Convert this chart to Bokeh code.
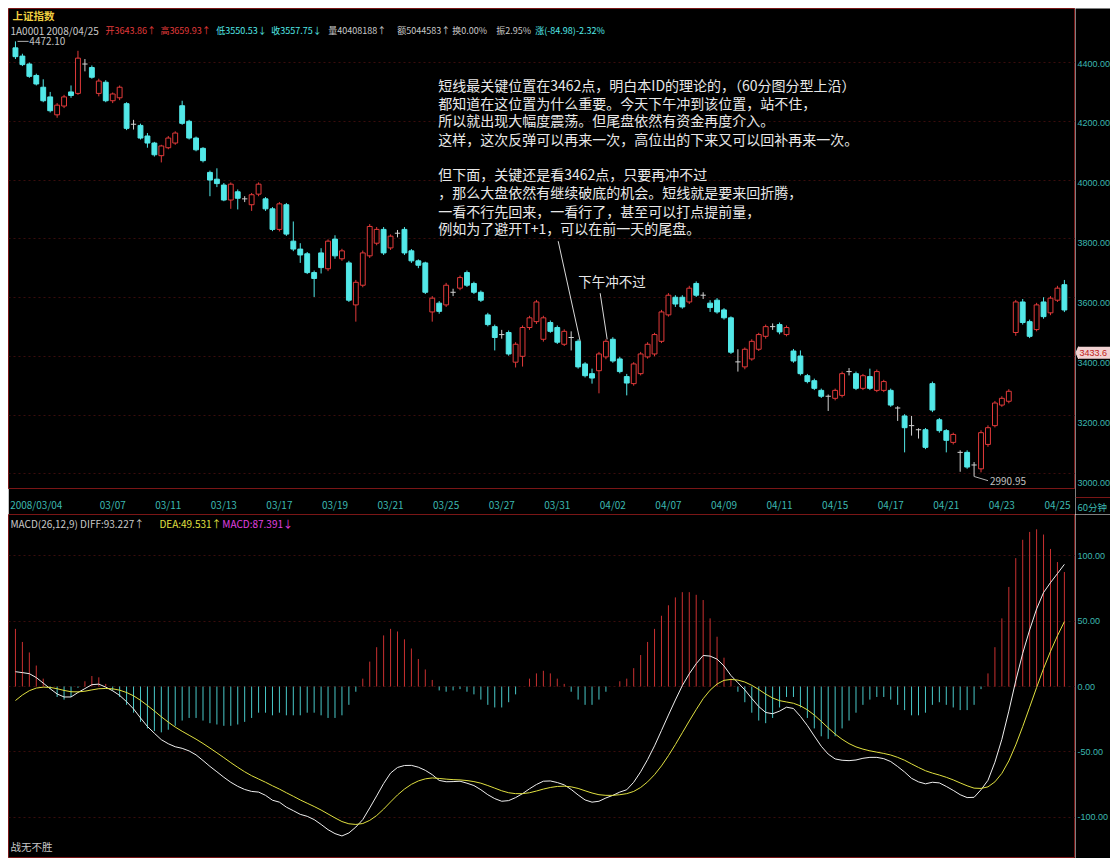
from bokeh.plotting import figure
from bokeh.models import Range1d, FixedTicker, Grid
from bokeh.layouts import column, row
from bokeh.embed import file_html
from bokeh.resources import INLINE
from bokeh.core.properties import value

# ---------------- data (60-minute bars, 2008/03/04 - 2008/04/25) ----------------
opens = [4450, 4422, 4395, 4356, 4316, 4283, 4222, 4252, 4300, 4295,
         4395, 4383, 4295, 4333, 4270, 4280, 4260, 4190, 4186, 4150,
         4126, 4083, 4110, 4126, 4253, 4200, 4143, 4108, 4026, 4003,
         3983, 3932, 3960, 3936, 3916, 3952, 3936, 3902, 3832, 3916,
         3792, 3765, 3749, 3685, 3752, 3698, 3799, 3732, 3718, 3575,
         3642, 3742, 3785, 3832, 3769, 3819, 3832, 3759, 3725, 3718,
         3551, 3581, 3575, 3618, 3632, 3685, 3648, 3618, 3541, 3501,
         3474, 3481, 3380, 3400, 3498, 3518, 3458, 3515, 3498, 3441,
         3464, 3451, 3374, 3341, 3351, 3398, 3458, 3391, 3331, 3307,
         3341, 3398, 3408, 3451, 3541, 3601, 3601, 3585, 3648, 3608,
         3581, 3591, 3558, 3531, 3381, 3364, 3391, 3424, 3468, 3501,
         3508, 3474, 3418, 3401, 3334, 3317, 3284, 3264, 3257, 3267,
         3348, 3341, 3291, 3331, 3284, 3284, 3284, 3224, 3197, 3164,
         3150, 3150, 3307, 3184, 3147, 3107, 3073, 3073, 3030, 3017,
         3100, 3164, 3234, 3247, 3481, 3585, 3518, 3491, 3585, 3548,
         3591, 3643.86]
highs = [4472.10, 4430, 4400, 4362, 4343, 4300, 4262, 4290, 4322, 4440,
         4412, 4390, 4345, 4340, 4298, 4322, 4265, 4205, 4192, 4160,
         4130, 4120, 4150, 4166, 4270, 4205, 4148, 4112, 4032, 4040,
         3990, 3992, 3968, 3945, 3956, 3992, 3942, 3908, 3925, 3922,
         3859, 3785, 3755, 3692, 3768, 3798, 3812, 3766, 3725, 3660,
         3760, 3850, 3840, 3840, 3815, 3830, 3840, 3765, 3730, 3722,
         3605, 3588, 3650, 3630, 3675, 3692, 3654, 3624, 3548, 3508,
         3490, 3488, 3448, 3505, 3538, 3592, 3538, 3522, 3505, 3492,
         3485, 3458, 3380, 3358, 3415, 3458, 3465, 3398, 3340, 3380,
         3415, 3448, 3480, 3558, 3615, 3608, 3608, 3640, 3655, 3618,
         3591, 3598, 3564, 3536, 3424, 3430, 3458, 3480, 3508, 3512,
         3515, 3505, 3425, 3420, 3340, 3324, 3290, 3270, 3290, 3348,
         3360, 3348, 3340, 3358, 3355, 3320, 3290, 3230, 3203, 3197,
         3155, 3156, 3314, 3190, 3152, 3140, 3080, 3080, 3040, 3148,
         3165, 3248, 3264, 3288, 3592, 3595, 3525, 3582, 3601, 3605,
         3640, 3659.93]
lows = [4412, 4388, 4348, 4322, 4265, 4230, 4212, 4245, 4280, 4290,
        4370, 4345, 4285, 4265, 4262, 4272, 4170, 4172, 4138, 4110,
        4080, 4060, 4105, 4120, 4188, 4138, 4098, 4060, 3945, 3976,
        3928, 3902, 3900, 3925, 3895, 3945, 3895, 3826, 3825, 3810,
        3758, 3718, 3680, 3602, 3682, 3690, 3732, 3725, 3585, 3518,
        3635, 3735, 3778, 3745, 3762, 3805, 3745, 3718, 3700, 3612,
        3518, 3545, 3568, 3605, 3625, 3636, 3612, 3585, 3502, 3420,
        3460, 3402, 3362, 3365, 3490, 3510, 3450, 3480, 3442, 3435,
        3420, 3358, 3328, 3307, 3274, 3390, 3378, 3342, 3267, 3300,
        3335, 3392, 3400, 3445, 3535, 3568, 3562, 3578, 3602, 3595,
        3551, 3545, 3525, 3408, 3348, 3356, 3385, 3418, 3460, 3490,
        3475, 3468, 3378, 3335, 3308, 3285, 3258, 3214, 3250, 3260,
        3335, 3285, 3285, 3285, 3278, 3278, 3228, 3180, 3073, 3130,
        3120, 3084, 3210, 3140, 3073, 3100, 3007, 3017, 2990.95, 3005,
        3092, 3158, 3228, 3240, 3470, 3508, 3462, 3485, 3528, 3540,
        3585, 3550.53]
closes = [4420, 4393, 4353, 4327, 4270, 4236, 4255, 4283, 4288, 4415,
          4395, 4350, 4337, 4270, 4293, 4316, 4176, 4190, 4143, 4126,
          4086, 4116, 4143, 4160, 4193, 4143, 4103, 4066, 4000, 3988,
          3932, 3986, 3938, 3936, 3950, 3986, 3902, 3832, 3919, 3816,
          3765, 3745, 3685, 3665, 3702, 3792, 3742, 3759, 3591, 3652,
          3752, 3842, 3832, 3752, 3809, 3819, 3752, 3725, 3710, 3618,
          3598, 3553, 3642, 3618, 3668, 3642, 3618, 3591, 3508, 3464,
          3474, 3408, 3441, 3498, 3531, 3585, 3531, 3485, 3448, 3485,
          3464, 3364, 3334, 3326, 3408, 3451, 3384, 3348, 3309, 3374,
          3408, 3441, 3474, 3551, 3608, 3578, 3568, 3632, 3608, 3608,
          3566, 3551, 3531, 3414, 3381, 3424, 3451, 3474, 3501, 3501,
          3483, 3498, 3384, 3341, 3314, 3291, 3264, 3264, 3284, 3341,
          3348, 3291, 3334, 3291, 3348, 3314, 3234, 3224, 3157, 3164,
          3150, 3090, 3217, 3147, 3114, 3134, 3073, 3023, 3030, 3140,
          3157, 3241, 3257, 3281, 3585, 3515, 3468, 3575, 3535, 3598,
          3632, 3557.75]

# MACD(26,12,9): DIFF (white), DEA (yellow), MACD histogram
diff = [11.3, 10.6, 9.8, 6.8, 2.6, -1.7, -5.7, -8.0, -8.0, -4.6,
        -1.6, 1.4, 1.8, -0.5, -3.3, -6.8, -11.6, -17.1, -24.0, -30.5,
        -35.7, -40.6, -43.7, -46.0, -47.2, -49.2, -52.2, -56.5, -61.0, -65.1,
        -69.3, -73.1, -76.2, -78.6, -80.1, -80.6, -83.1, -86.8, -88.3, -92.1,
        -94.8, -97.6, -99.1, -101.6, -105.3, -109.3, -112.3, -114.1, -111.8, -107.3,
        -101.6, -92.7, -83.5, -74.1, -66.1, -61.8, -60.3, -60.2, -61.6, -64.0,
        -67.3, -71.7, -72.7, -72.6, -72.3, -73.8, -75.6, -78.8, -82.6, -85.6,
        -87.6, -87.1, -84.8, -81.8, -78.1, -74.8, -72.3, -72.1, -73.3, -75.1,
        -78.6, -82.8, -86.6, -88.3, -87.6, -85.1, -83.1, -80.6, -78.8, -73.1,
        -65.1, -55.8, -45.3, -33.6, -21.8, -10.3, 0.7, 9.7, 17.4, 23.7,
        23.2, 20.9, 15.7, 8.4, 2.9, -2.6, -9.1, -15.3, -19.8, -20.8,
        -18.8, -15.8, -16.8, -22.8, -29.8, -37.8, -45.6, -51.6, -55.3, -56.3,
        -56.6, -56.1, -54.8, -54.1, -54.1, -55.1, -57.3, -61.1, -65.3, -70.1,
        -72.8, -74.3, -73.1, -73.6, -76.3, -79.3, -82.6, -84.8, -84.6, -78.8,
        -71.6, -57.8, -40.3, -18.8, 4.4, 25.4, 43.2, 59.2, 71.7, 79.3,
        86.2, 93.227]
dea = [-10.7, -6.5, -3.2, -1.2, -0.5, -0.7, -1.7, -3.0, -4.0, -4.1,
       -3.6, -2.6, -1.7, -1.5, -1.8, -2.8, -4.6, -7.1, -10.5, -14.5,
       -18.7, -23.1, -27.2, -31.0, -34.2, -37.2, -40.2, -43.5, -47.0, -50.6,
       -54.3, -58.1, -61.7, -65.1, -68.1, -70.6, -73.1, -75.8, -78.3, -81.1,
       -83.8, -86.6, -89.1, -91.6, -94.3, -97.3, -100.3, -103.1, -104.8, -105.3,
       -104.6, -102.2, -98.5, -93.6, -88.1, -82.8, -78.3, -74.7, -72.1, -70.5,
       -69.8, -70.2, -70.7, -71.1, -71.3, -71.8, -72.6, -73.8, -75.6, -77.6,
       -79.6, -81.1, -81.8, -81.8, -81.1, -79.8, -78.3, -77.1, -76.3, -76.1,
       -76.6, -77.8, -79.6, -81.3, -82.6, -83.1, -83.1, -82.6, -81.8, -80.1,
       -77.1, -72.8, -67.3, -60.6, -52.8, -44.3, -35.3, -26.3, -17.6, -9.3,
       -2.8, 1.9, 4.7, 5.4, 4.9, 3.4, 0.9, -2.3, -5.8, -8.8,
       -10.8, -11.8, -12.8, -14.8, -17.8, -21.8, -26.6, -31.6, -36.3, -40.3,
       -43.6, -46.1, -47.8, -49.1, -50.1, -51.1, -52.3, -54.1, -56.3, -59.1,
       -61.8, -64.3, -66.1, -67.6, -69.3, -71.3, -73.6, -75.8, -77.6, -77.8,
       -76.6, -72.8, -66.3, -56.8, -44.6, -30.6, -15.8, -0.8, 13.7, 26.8,
       38.7, 49.531]
macd = [44, 34, 26, 16, 6, -2, -8, -10, -8, -1,
        4, 8, 7, 2, -3, -8, -14, -20, -27, -32,
        -34, -35, -33, -30, -26, -24, -24, -26, -28, -29,
        -30, -30, -29, -27, -24, -20, -20, -22, -20, -22,
        -22, -22, -20, -20, -22, -24, -24, -22, -14, -4,
        6, 19, 30, 39, 44, 42, 36, 29, 21, 13,
        5, -3, -4, -3, -2, -4, -6, -10, -14, -16,
        -16, -12, -6, 0, 6, 10, 12, 10, 6, 2,
        -4, -10, -14, -14, -10, -4, 0, 4, 6, 14,
        24, 34, 44, 54, 62, 68, 72, 72, 70, 66,
        52, 38, 22, 6, -4, -12, -20, -26, -28, -24,
        -16, -8, -8, -16, -24, -32, -38, -40, -38, -32,
        -26, -20, -14, -10, -8, -8, -10, -14, -18, -22,
        -22, -20, -14, -12, -14, -16, -18, -18, -14, -2,
        10, 30, 52, 76, 98, 112, 118, 120, 116, 105,
        95, 87.391]

date_labels = ["2008/03/04", "03/07", "03/11", "03/13", "03/17", "03/19", "03/21",
               "03/25", "03/27", "03/31", "04/02", "04/07", "04/09", "04/11",
               "04/15", "04/17", "04/21", "04/23", "04/25"]
date_bars = [0, 12, 20, 28, 36, 44, 52, 60, 68, 76, 84, 92, 100, 108, 116, 124,
             132, 140, 148]
price_ticks = [3000, 3200, 3400, 3600, 3800, 4000, 4200, 4400]
price_tick_labels = ["3000.00", "3200.00", "3400.00", "3600.00", "3800.00",
                     "4000.00", "4200.00", "4400.00"]
macd_ticks = [-100, -50, 0, 50, 100]
macd_tick_labels = ["-100.00", "-50.00", "0.00", "50.00", "100.00"]
cursor_price = 3433.6

# ---------------- style ----------------
FONT = "Noto Sans CJK SC"
AXFONT = "Liberation Sans"
RED = "#e23a3a"
CYAN = "#52e8e8"
DOJI = "#d0d0d0"
TEAL = "#3cb8b0"
FRAME = "#7a1616"
GRIDC = "#3a0c0c"
WM = 1067          # main panels width (frame)
WR = 35            # right label strip
H1 = 506
H2 = 344
P_LO, P_HI = 2950, 4584
M_LO, M_HI = -131.3, 131.3


def px2x(px):
    return (px - 15) / 6.95


def py2p(py):
    return 4400 - (py - 63) / 0.2993


def py2m(py):
    return (686 - py) / 1.31


N = len(closes)
idx = list(range(N))
xr = Range1d(-1.0, 152.6)
pr = Range1d(P_LO, P_HI)
mr = Range1d(M_LO, M_HI)

common = dict(output_backend="svg", toolbar_location=None,
              background_fill_color="black", border_fill_color="black",
              min_border_left=0, min_border_right=0, min_border_top=0)

p = figure(width=WM, height=H1, x_range=xr, y_range=pr, y_axis_location=None,
           min_border_bottom=17, outline_line_color=FRAME, **common)
p.grid.visible = False
p.add_layout(Grid(dimension=1, ticker=FixedTicker(ticks=price_ticks),
                  grid_line_color=GRIDC, grid_line_dash="2 3"))

up = [i for i in idx if closes[i] > opens[i]]
dn = [i for i in idx if closes[i] < opens[i]]
dj = [i for i in idx if closes[i] == opens[i]]

p.segment(x0=up, y0=[lows[i] for i in up], x1=up, y1=[highs[i] for i in up],
          color=RED, line_width=1)
p.segment(x0=dn, y0=[lows[i] for i in dn], x1=dn, y1=[highs[i] for i in dn],
          color=CYAN, line_width=1)
p.segment(x0=dj, y0=[lows[i] for i in dj], x1=dj, y1=[highs[i] for i in dj],
          color=DOJI, line_width=1)
p.vbar(x=up, top=[closes[i] for i in up], bottom=[opens[i] for i in up],
       width=0.7, fill_color="black", line_color=RED, line_width=1)
p.vbar(x=dn, top=[opens[i] for i in dn], bottom=[closes[i] for i in dn],
       width=0.7, fill_color=CYAN, line_color=CYAN, line_width=1)
p.segment(x0=[i - 0.38 for i in dj], y0=[opens[i] for i in dj],
          x1=[i + 0.38 for i in dj], y1=[closes[i] for i in dj],
          color=DOJI, line_width=1)

# date axis
tick_pos = [b + (3 if k == 0 else 2) for k, b in enumerate(date_bars)]
p.xaxis.ticker = FixedTicker(ticks=tick_pos)
p.xaxis.major_label_overrides = {t: lab for t, lab in zip(tick_pos, date_labels)}
xa = p.xaxis[0]
xa.axis_line_color = FRAME
xa.major_tick_line_color = None
xa.minor_tick_line_color = None
xa.major_label_text_color = TEAL
xa.major_label_text_font = FONT
xa.major_label_text_font_size = "10px"
xa.major_label_standoff = 2

# header
TXT = dict(text_font=value(FONT), text_baseline="middle")
hdr = [("开3643.86↑", 105, RED), ("高3659.93↑", 160, RED),
       ("低3550.53↓", 216, CYAN), ("收3557.75↓", 271, CYAN),
       ("量40408188↑", 328, "#c8c8c8"), ("额5044583↑", 397, "#c8c8c8"),
       ("换0.00%", 452, "#c8c8c8"), ("振2.95%", 496, "#c8c8c8"),
       ("涨(-84.98)-2.32%", 535, CYAN)]
p.text(x=[px2x(12)], y=[py2p(15)], text=["上证指数"], text_color="#f0d040",
       text_font_size="10.5px", text_font_style="bold", **TXT)
p.text(x=[px2x(10)], y=[py2p(30)], text=["1A0001 2008/04/25"], text_color="#c8c8c8",
       text_font_size="10px", **TXT)
p.text(x=[px2x(h[1]) for h in hdr], y=[py2p(30)] * len(hdr),
       text=[h[0] for h in hdr], text_color=[h[2] for h in hdr],
       text_font_size="9px", **TXT)

# extremes
p.segment(x0=[0.3], y0=[highs[0]], x1=[1.9], y1=[highs[0]], color="#b0b0b0")
p.text(x=[2.0], y=[highs[0]], text=["4472.10"], text_color="#c0c0c0",
       text_font_size="10px", **TXT)
p.line(x=[138, px2x(988)], y=[lows[138], py2p(489)], color="#b0b0b0")
p.text(x=[px2x(990)], y=[py2p(489)], text=["2990.95"], text_color="#c0c0c0",
       text_font_size="10px", **TXT)

# commentary
notes = ["短线最关键位置在3462点，明白本ID的理论的，（60分图分型上沿）",
         "都知道在这位置为什么重要。今天下午冲到该位置，站不住，",
         "所以就出现大幅度震荡。但尾盘依然有资金再度介入。",
         "这样，这次反弹可以再来一次，高位出的下来又可以回补再来一次。",
         "但下面，关键还是看3462点，只要再冲不过",
         "，那么大盘依然有继续破底的机会。短线就是要来回折腾，",
         "一看不行先回来，一看行了，甚至可以打点提前量，",
         "例如为了避开T+1，可以在前一天的尾盘。"]
note_y = [86, 104, 122, 141, 177, 195, 214, 232]
p.text(x=[px2x(438)] * len(notes), y=[py2p(v) for v in note_y], text=notes,
       text_color="#e8e8e8", text_font_size="14px", **TXT)
p.text(x=[px2x(578)], y=[py2p(286)], text=["下午冲不过"], text_color="#e8e8e8",
       text_font_size="13.5px", **TXT)
p.line(x=[px2x(558), px2x(580)], y=[py2p(245), py2p(347)], color="#d8d8d8")
p.line(x=[px2x(600), px2x(607)], y=[py2p(298), py2p(345)], color="#d8d8d8")

# right strip of the price panel (tick labels, cursor price, period)
span = (P_HI - P_LO) / (H1 - 17)
q1 = figure(width=WR, height=H1, x_range=Range1d(0, WR),
            y_range=Range1d(P_HI - H1 * span, P_HI), x_axis_location=None,
            y_axis_location=None, min_border_bottom=0, outline_line_color=None,
            **common)
q1.grid.visible = False
q1.text(x=[2] * len(price_ticks), y=price_ticks, text=price_tick_labels,
        text_color=TEAL, text_font=value(AXFONT), text_font_size="9px",
        text_baseline="middle")
q1.patch(x=[0.5, 3, 3], y=[cursor_price, cursor_price + 6 * span, cursor_price - 6 * span],
         color="#f2d2d2")
q1.quad(left=[3], right=[WR], bottom=[cursor_price - 6 * span],
        top=[cursor_price + 6 * span], fill_color="#f2d2d2", line_color=None)
q1.text(x=[4], y=[cursor_price], text=["3433.6"], text_color="#c01818",
        text_font=value(AXFONT), text_font_size="9px", text_baseline="middle")
q1.segment(x0=[0], y0=[P_LO], x1=[WR], y1=[P_LO], color=FRAME)
q1.text(x=[2], y=[py2p(506)], text=["60分钟"], text_color=TEAL,
        text_font=value(FONT), text_font_size="9.5px", text_baseline="middle")

# ---------------- MACD panel ----------------
p2 = figure(width=WM, height=H2, x_range=xr, y_range=mr, y_axis_location=None,
            x_axis_location=None, min_border_bottom=0, outline_line_color=FRAME,
            **common)
p2.grid.visible = False
p2.add_layout(Grid(dimension=1, ticker=FixedTicker(ticks=macd_ticks),
                   grid_line_color=GRIDC, grid_line_dash="2 3"))
pos = [i for i in idx if macd[i] >= 0]
neg = [i for i in idx if macd[i] < 0]
p2.segment(x0=pos, y0=[0] * len(pos), x1=pos, y1=[macd[i] for i in pos],
           color="#c83030", line_width=1)
p2.segment(x0=neg, y0=[0] * len(neg), x1=neg, y1=[macd[i] for i in neg],
           color="#48c8c8", line_width=1)
p2.line(idx, diff, color="#eeeeee", line_width=1)
p2.line(idx, dea, color="#e0e040", line_width=1)

mh = [("MACD(26,12,9) DIFF:93.227↑", 10, "#c8c8c8"), ("DEA:49.531↑", 159, "#e0e040"),
      ("MACD:87.391↓", 222, "#e040e0")]
p2.text(x=[px2x(m[1]) for m in mh], y=[py2m(523)] * len(mh), text=[m[0] for m in mh],
        text_color=[m[2] for m in mh], text_font_size="10px", **TXT)
p2.text(x=[px2x(10)], y=[py2m(846)], text=["战无不胜"], text_color="#c8c8c8",
        text_font_size="10.5px", **TXT)

q2 = figure(width=WR, height=H2, x_range=Range1d(0, WR), y_range=mr,
            x_axis_location=None, y_axis_location=None, min_border_bottom=0,
            outline_line_color=None, **common)
q2.grid.visible = False
q2.text(x=[2] * len(macd_ticks), y=macd_ticks, text=macd_tick_labels,
        text_color=TEAL, text_font=value(AXFONT), text_font_size="9px",
        text_baseline="middle")

layout = row(column(p, p2, spacing=0), column(q1, q2, spacing=0), spacing=0,
             margin=(8, 0, 0, 8))
open("out.html", "w").write(file_html(layout, INLINE))
